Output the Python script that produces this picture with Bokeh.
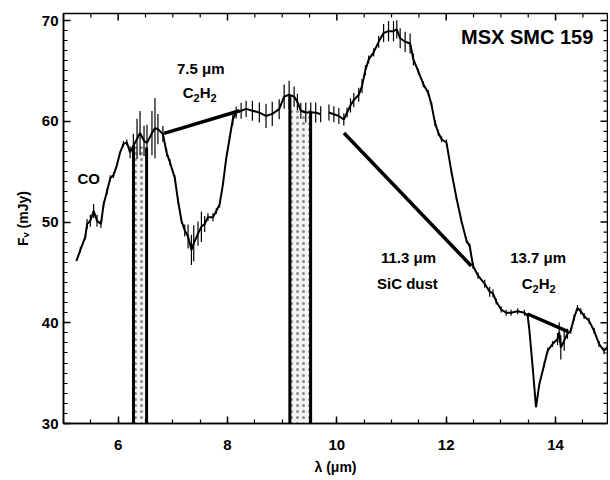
import math
from bokeh.plotting import figure
from bokeh.models import Range1d, SingleIntervalTicker, ColumnDataSource
from bokeh.embed import file_html
from bokeh.resources import INLINE
from bokeh.core.properties import value

NaN = float("nan")

# Spectrum of MSX SMC 159 (wavelength in micron, flux in mJy)
wavelength = [5.236, 5.309, 5.400, 5.431, 5.491, 5.551, 5.613, 5.685, 5.733, 5.795,
              5.855, 5.915, 5.976, 6.036, 6.096, 6.158, 6.218, 6.278, 6.345, 6.400,
              6.473, 6.527, 6.618, 6.673, 6.727, 6.818, 6.885, 6.945, 7.036, 7.096,
              7.158, 7.218, 7.278, 7.340, 7.382, 7.460, 7.522, 7.582, 7.642, 7.733,
              7.795, 7.855, 7.915, 7.976, 8.036, 8.096, 8.158, 8.249, 8.340, 8.455,
              8.582, 8.704, 8.818, 8.945, 9.036, 9.127, 9.218, 9.278, 9.340, 9.431,
              9.522, 9.613, 9.704, 9.780, 9.855, 9.945, 10.036, 10.127, 10.187, 10.249,
              10.309, 10.400, 10.460, 10.522, 10.582, 10.673, 10.764, 10.855, 10.945, 11.036,
              11.096, 11.158, 11.249, 11.340, 11.400, 11.491, 11.582, 11.673, 11.733, 11.795,
              11.855, 11.915, 12.005, 12.096, 12.187, 12.278, 12.369, 12.431, 12.491, 12.582,
              12.704, 12.795, 12.855, 12.915, 13.005, 13.096, 13.187, 13.309, 13.431, 13.491,
              13.522, 13.582, 13.642, 13.704, 13.795, 13.855, 13.945, 14.036, 14.067, 14.096,
              14.158, 14.218, 14.278, 14.340, 14.400, 14.460, 14.522, 14.613, 14.704, 14.795,
              14.885, 14.945]
flux = [46.13, 47.24, 48.56, 49.80, 50.13, 51.10, 50.13, 49.80, 51.75, 53.04,
        54.34, 54.66, 55.63, 56.92, 57.74, 57.90, 56.92, 57.57, 58.25, 58.83,
        58.06, 57.86, 58.83, 59.32, 59.22, 58.74, 56.92, 55.95, 54.37, 52.07,
        50.13, 49.16, 48.56, 47.24, 47.88, 48.85, 49.52, 49.80, 50.48, 50.48,
        51.10, 51.75, 53.69, 56.31, 58.25, 60.18, 60.87, 61.05, 61.23, 61.05,
        60.87, 60.53, 60.74, 61.20, 62.45, 62.63, 62.45, 61.93, 61.05, 60.87,
        60.87, 60.87, 60.70, NaN, 60.87, 60.70, 60.53, 60.18, 60.87, 61.58,
        62.10, 62.63, 63.50, 65.08, 66.14, 66.84, 67.89, 68.77, 68.95, 68.95,
        69.13, 68.24, 67.89, 67.72, 66.14, 64.92, 63.68, 62.81, 61.58, 59.84,
        58.86, 58.22, 57.89, 54.98, 52.40, 50.13, 48.20, 47.57, 45.64, 44.68,
        43.87, 43.08, 42.91, 42.12, 41.32, 40.99, 40.99, 41.15, 40.99, 40.67,
        39.21, 35.57, 31.61, 33.93, 35.91, 37.23, 37.89, 38.39, 39.04, 37.55,
        38.22, 38.91, 39.21, 40.51, 41.47, 41.15, 40.67, 40.19, 39.21, 37.89,
        37.23, 37.55]
noise = [0.0, 0.3, 0.3, 0.5, 0.6, 0.7, 0.6, 0.4, 0.3, 0.3,
         0.3, 0.3, 0.0, 0.0, 0.3, 0.3, 0.6, 1.2, 2.0, 2.2,
         1.5, 1.8, 2.2, 3.0, 1.5, 0.8, 0.4, 0.3, 0.3, 0.3,
         0.3, 0.6, 1.2, 1.5, 1.8, 1.2, 1.5, 0.8, 0.4, 0.4,
         0.3, 0.3, 0.0, 0.0, 0.3, 0.6, 0.6, 0.8, 0.8, 1.0,
         1.0, 1.2, 1.2, 1.0, 1.2, 1.4, 1.0, 0.8, 0.8, 1.0,
         1.0, 1.0, 0.8, 0.0, 0.8, 0.8, 0.8, 0.6, 0.5, 0.7,
         0.7, 0.7, 0.7, 0.5, 0.4, 0.4, 0.6, 0.9, 1.0, 1.0,
         0.9, 1.0, 1.0, 1.0, 0.6, 0.3, 0.3, 0.3, 0.3, 0.3,
         0.3, 0.3, 0.3, 0.3, 0.3, 0.3, 0.3, 0.3, 0.3, 0.3,
         0.4, 0.5, 0.4, 0.3, 0.3, 0.3, 0.3, 0.3, 0.3, 0.3,
         0.0, 0.0, 0.0, 0.0, 0.3, 0.3, 0.3, 0.6, 1.0, 1.2,
         1.0, 0.5, 0.3, 0.3, 0.3, 0.3, 0.3, 0.3, 0.3, 0.3,
         0.3, 0.3]

# Continuum fits under the features (start / end points)
cont_x0 = [6.84, 10.13, 13.49]
cont_y0 = [58.80, 58.83, 40.87]
cont_x1 = [8.22, 12.46, 14.23]
cont_y1 = [61.05, 45.64, 39.12]

# Shaded wavelength bands
band_left = [6.28, 9.14]
band_right = [6.52, 9.52]
band_top = [57.5, 61.2]
band_top_left = [57.6, 62.6]
band_top_right = [57.4, 61.0]

# Feature labels
label_text = ["CO", "7.5 \u03bcm", "11.3 \u03bcm", "SiC dust", "13.7 \u03bcm"]
label_x = [5.46, 7.51, 11.31, 11.29, 13.68]
label_y = [54.37, 65.26, 46.44, 43.88, 46.44]

# Molecule labels (C2H2, drawn with subscripts)
mol_x = [7.49, 13.69]
mol_y = [62.84, 43.88]

title_text = ["MSX SMC 159"]
title_x = [14.69]
title_y = [68.32]

# Mirror tick positions for the top and right frame edges
top_major_ticks = [6, 8, 10, 12, 14]
top_minor_ticks = [5.5, 6.5, 7, 7.5, 8.5, 9, 9.5, 10.5, 11, 11.5, 12.5, 13, 13.5, 14.5]
right_major_ticks = [40, 50, 60, 70]
right_minor_ticks = [31, 32, 33, 34, 35, 36, 37, 38, 39, 41, 42, 43, 44, 45, 46, 47, 48, 49,
                     51, 52, 53, 54, 55, 56, 57, 58, 59, 61, 62, 63, 64, 65, 66, 67, 68, 69]

X_RANGE = (5.0, 14.95)
Y_RANGE = (30.0, 70.7)
FONT = "Liberation Sans"

p = figure(width=608, height=479, output_backend="svg", toolbar_location=None,
           x_range=Range1d(*X_RANGE), y_range=Range1d(*Y_RANGE),
           min_border_left=63, min_border_right=1, min_border_top=13, min_border_bottom=56,
           x_axis_label="\u03bb (\u03bcm)", y_axis_label="F\u1d65 (mJy)")
p.background_fill_color = "white"
p.border_fill_color = "white"
p.outline_line_color = "black"
p.outline_line_width = 1.5
p.xgrid.visible = False
p.ygrid.visible = False

p.xaxis.ticker = SingleIntervalTicker(interval=2, num_minor_ticks=4)
p.yaxis.ticker = SingleIntervalTicker(interval=10, num_minor_ticks=10)

for ax in list(p.xaxis) + list(p.yaxis):
    ax.axis_line_color = "black"
    ax.axis_line_width = 1.5
    ax.major_tick_in = 7
    ax.major_tick_out = 0
    ax.minor_tick_in = 4
    ax.minor_tick_out = 0
    ax.major_tick_line_width = 1.5
    ax.minor_tick_line_width = 1.2
    ax.major_tick_line_color = "black"
    ax.minor_tick_line_color = "black"
    ax.major_label_text_font = FONT
    ax.major_label_text_font_style = "bold"
    ax.major_label_text_font_size = "15px"
    ax.major_label_text_color = "black"
    ax.axis_label_text_font = FONT
    ax.axis_label_text_font_style = "bold"
    ax.axis_label_text_font_size = "14px"
    ax.axis_label_text_color = "black"
for ax in p.xaxis:
    ax.major_label_standoff = 16
    ax.axis_label_standoff = 6
for ax in p.yaxis:
    ax.major_label_standoff = 5
    ax.axis_label_standoff = 8

# Mirror ticks on top / right edges (clipped at the frame, so only the inner half shows)
p.scatter(x=top_major_ticks, y=[Y_RANGE[1]] * len(top_major_ticks), marker="dash",
          size=14, angle=math.pi / 2, line_color="black", line_width=1.5)
p.scatter(x=top_minor_ticks, y=[Y_RANGE[1]] * len(top_minor_ticks), marker="dash",
          size=8, angle=math.pi / 2, line_color="black", line_width=1.2)
p.scatter(x=[X_RANGE[1]] * len(right_major_ticks), y=right_major_ticks, marker="dash",
          size=14, line_color="black", line_width=1.5)
p.scatter(x=[X_RANGE[1]] * len(right_minor_ticks), y=right_minor_ticks, marker="dash",
          size=8, line_color="black", line_width=1.2)

# Bands
bands = ColumnDataSource(dict(left=band_left, right=band_right, top=band_top,
                              bottom=[Y_RANGE[0]] * len(band_left),
                              tl=band_top_left, tr=band_top_right))
p.quad(left="left", right="right", top="top", bottom="bottom", source=bands,
       fill_color="#f4f4f4", line_color=None,
       hatch_pattern="dot", hatch_color="#8a8a8a", hatch_scale=6, hatch_weight=0.6)
p.segment(x0="left", y0="bottom", x1="left", y1="tl", source=bands,
          line_color="black", line_width=3)
p.segment(x0="right", y0="bottom", x1="right", y1="tr", source=bands,
          line_color="black", line_width=3)

# Spectrum with noise spikes
lo = [f - e if e > 0 else NaN for f, e in zip(flux, noise)]
hi = [f + e if e > 0 else NaN for f, e in zip(flux, noise)]
spec = ColumnDataSource(dict(x=wavelength, y=flux, lo=lo, hi=hi))
p.segment(x0="x", y0="lo", x1="x", y1="hi", source=spec, line_color="black", line_width=1.2)
p.line(x="x", y="y", source=spec, line_color="black", line_width=2)

# Continuum lines
p.segment(x0=cont_x0, y0=cont_y0, x1=cont_x1, y1=cont_y1, line_color="black", line_width=3.5)

# Labels
p.text(x=label_x, y=label_y, text=label_text, text_font=value(FONT), text_font_style="bold",
       text_font_size="15px", text_align="center", text_baseline="middle", text_color="black")
p.text(x=title_x, y=title_y, text=title_text, text_font=value(FONT), text_font_style="bold",
       text_font_size="20px", text_align="right", text_baseline="middle", text_color="black")

# C2H2 with subscripts: main letters and smaller lowered digits
for piece, dx, dy, size in [("C", -11.5, 0, "15px"), ("2", -3.0, 5, "11px"),
                            ("H", 5.5, 0, "15px"), ("2", 14.0, 5, "11px")]:
    p.text(x=mol_x, y=mol_y, text=[piece] * len(mol_x), x_offset=dx, y_offset=dy,
           text_font=value(FONT), text_font_style="bold", text_font_size=size,
           text_align="center", text_baseline="middle", text_color="black")

open("out.html", "w").write(file_html(p, INLINE))
